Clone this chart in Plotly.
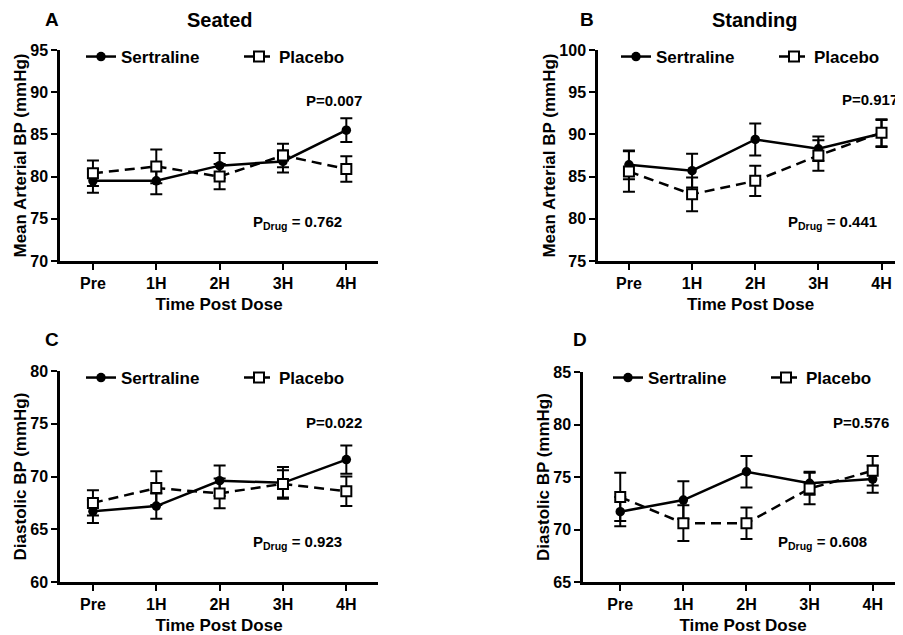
import plotly.graph_objects as go

times = ["Pre", "1H", "2H", "3H", "4H"]

a_sert = [79.5, 79.5, 81.3, 81.8, 85.5]
a_sert_err = [1.4, 1.6, 1.5, 1.3, 1.4]
a_plac = [80.4, 81.2, 80.0, 82.5, 80.9]
a_plac_err = [1.5, 2.0, 1.5, 1.4, 1.5]

b_sert = [86.4, 85.7, 89.4, 88.3, 90.1]
b_sert_err = [1.7, 2.0, 1.9, 1.45, 1.6]
b_plac = [85.6, 82.9, 84.5, 87.5, 90.2]
b_plac_err = [2.4, 2.0, 1.8, 1.8, 1.6]

c_sert = [66.7, 67.2, 69.6, 69.4, 71.6]
c_sert_err = [1.1, 1.2, 1.45, 1.5, 1.35]
c_plac = [67.5, 68.9, 68.4, 69.3, 68.6]
c_plac_err = [1.2, 1.6, 1.4, 1.3, 1.4]

d_sert = [71.7, 72.8, 75.5, 74.4, 74.8]
d_sert_err = [1.4, 1.8, 1.5, 1.1, 1.3]
d_plac = [73.1, 70.6, 70.6, 73.9, 75.6]
d_plac_err = [2.3, 1.7, 1.5, 1.5, 1.4]

p_time = ["0.007", "0.917", "0.022", "0.576"]
p_drug = ["0.762", "0.441", "0.923", "0.608"]

# page body has an 8px margin; lay out in screen pixels and compensate
OFF = 8
W, H = 903 - OFF, 635 - OFF
FONT = "Liberation Sans, Arial, sans-serif"


def fx(p):
    return (p - OFF) / W


def fy(p):
    return 1 - (p - OFF) / H


panels = [
    dict(letter="A", title="Seated", ytitle="Mean Arterial BP (mmHg)",
         sert=a_sert, se=a_sert_err, plac=a_plac, pe=a_plac_err,
         xd=(60, 378), yd=(50, 261), xr=(-0.52, 4.5), yr=(70, 95),
         leg=(81, 57), letpos=(52, 20), titpos=(220, 20),
         p1=(3.8, 89.0), p2=(3.23, 74.6)),
    dict(letter="B", title="Standing", ytitle="Mean Arterial BP (mmHg)",
         sert=b_sert, se=b_sert_err, plac=b_plac, pe=b_plac_err,
         xd=(598, 903), yd=(50, 261), xr=(-0.49, 4.34), yr=(75, 100),
         leg=(616, 57), letpos=(587, 20), titpos=(755, 20),
         p1=(3.81, 94.1), p2=(3.22, 79.6)),
    dict(letter="C", title="", ytitle="Diastolic BP (mmHg)",
         sert=c_sert, se=c_sert_err, plac=c_plac, pe=c_plac_err,
         xd=(60, 378), yd=(371, 582), xr=(-0.52, 4.5), yr=(60, 80),
         leg=(81, 378), letpos=(52, 340), titpos=(220, 340),
         p1=(3.8, 75.1), p2=(3.23, 63.7)),
    dict(letter="D", title="", ytitle="Diastolic BP (mmHg)",
         sert=d_sert, se=d_sert_err, plac=d_plac, pe=d_plac_err,
         xd=(583, 903), yd=(372, 582), xr=(-0.59, 4.48), yr=(65, 85),
         leg=(608, 378), letpos=(580, 340), titpos=(755, 340),
         p1=(3.81, 80.2), p2=(3.21, 68.75)),
]

fig = go.Figure()
annotations = []
layout = {}

for i, p in enumerate(panels):
    n = "" if i == 0 else str(i + 1)
    xa, ya = "x" + n, "y" + n
    legname = "legend" + n
    err_style = dict(type="data", thickness=2, width=6, color="black")
    fig.add_trace(go.Scatter(
        x=times, y=p["sert"], xaxis=xa, yaxis=ya, name="Sertraline",
        mode="lines+markers", legend=legname,
        line=dict(color="black", width=2.5),
        marker=dict(symbol="circle", size=9.5, color="black"),
        error_y=dict(array=p["se"], **err_style)))
    fig.add_trace(go.Scatter(
        x=times, y=p["plac"], xaxis=xa, yaxis=ya, name="Placebo",
        mode="lines+markers", legend=legname,
        line=dict(color="black", width=2.5, dash="10px,6px"),
        marker=dict(symbol="square", size=10, color="white",
                    line=dict(color="black", width=2)),
        error_y=dict(array=p["pe"], **err_style)))

    axfont = dict(family=FONT, size=16, color="black", weight="bold")
    layout["xaxis" + n] = dict(
        domain=[fx(p["xd"][0]), min(1.0, fx(p["xd"][1]))], anchor=ya,
        type="category", range=list(p["xr"]),
        showline=True, linewidth=2.5, linecolor="black",
        ticks="outside", ticklen=6, tickwidth=2, tickcolor="black",
        tickfont=axfont, showgrid=False, zeroline=False,
        title=dict(text="Time Post Dose", standoff=8,
                   font=dict(family=FONT, size=17, color="black", weight="bold")))
    layout["yaxis" + n] = dict(
        domain=[fy(p["yd"][1]), fy(p["yd"][0])], anchor=xa,
        range=list(p["yr"]), dtick=5,
        showline=True, linewidth=2.5, linecolor="black",
        ticks="outside", ticklen=6, tickwidth=2, tickcolor="black",
        tickfont=axfont, showgrid=False, zeroline=False,
        title=dict(text=p["ytitle"], standoff=0,
                   font=dict(family=FONT, size=17, color="black", weight="bold")))
    layout[legname] = dict(
        x=fx(p["leg"][0]), y=fy(p["leg"][1]), xanchor="left", yanchor="middle",
        orientation="h", itemwidth=30, entrywidth=113, entrywidthmode="pixels",
        bgcolor="rgba(0,0,0,0)",
        font=dict(family=FONT, size=17, color="black", weight="bold"))

    annotations.append(dict(
        text=p["letter"], xref="paper", yref="paper",
        x=fx(p["letpos"][0]), y=fy(p["letpos"][1]), showarrow=False,
        xanchor="center", yanchor="middle",
        font=dict(family=FONT, size=19, color="black", weight="bold")))
    if p["title"]:
        annotations.append(dict(
            text=p["title"], xref="paper", yref="paper",
            x=fx(p["titpos"][0]), y=fy(p["titpos"][1]), showarrow=False,
            xanchor="center", yanchor="middle",
            font=dict(family=FONT, size=20, color="black", weight="bold")))
    annotations.append(dict(
        text="P=" + p_time[i], xref=xa, yref=ya,
        x=p["p1"][0], y=p["p1"][1], showarrow=False,
        font=dict(family=FONT, size=15, color="black", weight="bold")))
    annotations.append(dict(
        text="P<sub>Drug</sub> = " + p_drug[i], xref=xa, yref=ya,
        x=p["p2"][0], y=p["p2"][1], showarrow=False,
        font=dict(family=FONT, size=15, color="black", weight="bold")))

fig.update_layout(
    width=W, height=H, margin=dict(l=0, r=0, t=0, b=0, autoexpand=False),
    paper_bgcolor="white", plot_bgcolor="white",
    annotations=annotations, font=dict(family=FONT, color="black"),
    **layout)

fig.write_html("out.html")
